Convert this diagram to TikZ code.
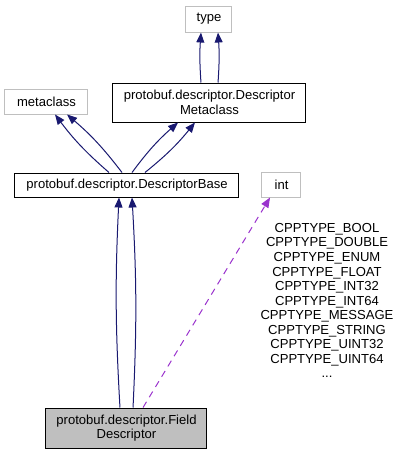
\documentclass[tikz,border=0pt]{standalone}
\usepackage{fontspec}
\setmainfont{Liberation Sans}
\usetikzlibrary{arrows.meta}
\definecolor{edgeblue}{HTML}{191970}
\definecolor{edgepurple}{HTML}{9A32CD}
\definecolor{boxgray}{HTML}{BFBFBF}
\definecolor{extgray}{HTML}{BFBFBF}
\begin{document}
\begin{tikzpicture}[x=0.75pt,y=-0.75pt,
  font=\fontsize{9.8pt}{10.9pt}\selectfont,
  cls/.style={draw=black,line width=0.75pt,inner sep=0pt,align=center},
  ext/.style={draw=extgray,line width=0.75pt,inner sep=0pt,align=center},
  inh/.style={draw=edgeblue,line width=0.75pt,-{Triangle[length=7.5pt,width=6pt,fill=edgeblue]}},
  use/.style={draw=edgepurple,line width=0.75pt,dashed,dash pattern=on 5pt off 4pt,-{Triangle[length=7.5pt,width=6pt,fill=edgepurple]}}]
\useasboundingbox (0,0) rectangle (401,455);
\node[ext,minimum width=34.5pt,minimum height=19.5pt] (type) at (209,19) {type};
\node[cls,minimum width=144.75pt,minimum height=29.25pt] (meta) at (209.5,102.5) {protobuf.descriptor.Descriptor\\Metaclass};
\node[ext,minimum width=62.25pt,minimum height=18.75pt] (mc) at (46.5,101.5) {metaclass};
\node[cls,minimum width=168pt,minimum height=18pt] (base) at (127,185) {protobuf.descriptor.DescriptorBase};
\node[ext,minimum width=29.25pt,minimum height=18.75pt] (int) at (281.5,184.5) {int};
\node[cls,fill=boxgray,minimum width=120.75pt,minimum height=30pt] (field) at (126.5,428) {protobuf.descriptor.Field\\Descriptor};
\node[align=center,font=\fontsize{9.8pt}{10.9pt}\selectfont] (lbl) at (327,300.5) {CPPTYPE\_BOOL\\CPPTYPE\_DOUBLE\\CPPTYPE\_ENUM\\CPPTYPE\_FLOAT\\CPPTYPE\_INT32\\CPPTYPE\_INT64\\CPPTYPE\_MESSAGE\\CPPTYPE\_STRING\\CPPTYPE\_UINT32\\CPPTYPE\_UINT64\\...};
% Metaclass -> type
\draw[inh] ([xshift=-6.4pt]meta.north) to[bend left=4] ([xshift=-6pt]type.south);
\draw[inh] ([xshift=6.4pt]meta.north) to[bend right=4] ([xshift=6.75pt]type.south);
% Base -> metaclass
\draw[inh] ([xshift=-13.5pt]base.north) to[bend left=6] ([xshift=6.4pt]mc.south);
\draw[inh] ([xshift=-3.75pt]base.north) to[bend right=6] ([xshift=15.4pt]mc.south);
% Base -> Metaclass
\draw[inh] ([xshift=3.75pt]base.north) to[bend left=6] ([xshift=-23.6pt]meta.south);
\draw[inh] ([xshift=13.5pt]base.north) to[bend right=6] ([xshift=-10.9pt]meta.south);
% Field -> Base
\draw[inh] ([xshift=-4.9pt]field.north) to[bend left=3] ([xshift=-6pt]base.south);
\draw[inh] ([xshift=4.9pt]field.north) to[bend right=3] ([xshift=3.75pt]base.south);
% Field -> int
\draw[use] ([xshift=12.4pt]field.north) -- ([xshift=-8.6pt]int.south);
\end{tikzpicture}
\end{document}
